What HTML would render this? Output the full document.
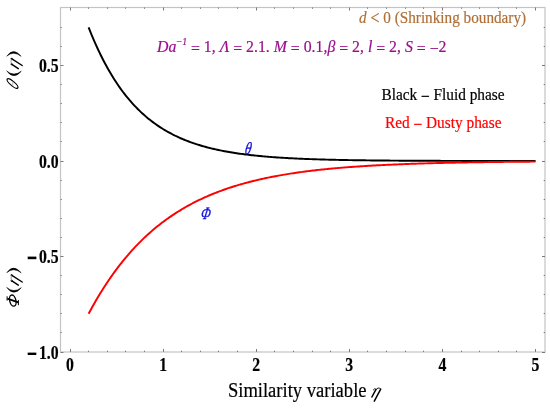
<!DOCTYPE html>
<html><head><meta charset="utf-8"><style>
html,body{margin:0;padding:0;background:#fff;}
svg{display:block;will-change:transform;}
text{font-family:"Liberation Serif",serif;}
</style></head><body>
<svg width="550" height="409" viewBox="0 0 550 409">
<rect x="0" y="0" width="550" height="409" fill="#fff"/>
<rect x="60.5" y="7.5" width="484.5" height="344.5" fill="none" stroke="#c4c4c4" stroke-width="1.2"/>
<g stroke="#7a7a7a" stroke-width="1">
<line x1="70.50" y1="352.0" x2="70.50" y2="349.0"/>
<line x1="70.50" y1="7.5" x2="70.50" y2="10.5"/>
<line x1="88.50" y1="352.0" x2="88.50" y2="350.7"/>
<line x1="88.50" y1="7.5" x2="88.50" y2="8.8"/>
<line x1="107.50" y1="352.0" x2="107.50" y2="350.7"/>
<line x1="107.50" y1="7.5" x2="107.50" y2="8.8"/>
<line x1="125.50" y1="352.0" x2="125.50" y2="350.7"/>
<line x1="125.50" y1="7.5" x2="125.50" y2="8.8"/>
<line x1="144.50" y1="352.0" x2="144.50" y2="350.7"/>
<line x1="144.50" y1="7.5" x2="144.50" y2="8.8"/>
<line x1="163.50" y1="352.0" x2="163.50" y2="349.0"/>
<line x1="163.50" y1="7.5" x2="163.50" y2="10.5"/>
<line x1="181.50" y1="352.0" x2="181.50" y2="350.7"/>
<line x1="181.50" y1="7.5" x2="181.50" y2="8.8"/>
<line x1="200.50" y1="352.0" x2="200.50" y2="350.7"/>
<line x1="200.50" y1="7.5" x2="200.50" y2="8.8"/>
<line x1="218.50" y1="352.0" x2="218.50" y2="350.7"/>
<line x1="218.50" y1="7.5" x2="218.50" y2="8.8"/>
<line x1="237.50" y1="352.0" x2="237.50" y2="350.7"/>
<line x1="237.50" y1="7.5" x2="237.50" y2="8.8"/>
<line x1="256.50" y1="352.0" x2="256.50" y2="349.0"/>
<line x1="256.50" y1="7.5" x2="256.50" y2="10.5"/>
<line x1="274.50" y1="352.0" x2="274.50" y2="350.7"/>
<line x1="274.50" y1="7.5" x2="274.50" y2="8.8"/>
<line x1="293.50" y1="352.0" x2="293.50" y2="350.7"/>
<line x1="293.50" y1="7.5" x2="293.50" y2="8.8"/>
<line x1="312.50" y1="352.0" x2="312.50" y2="350.7"/>
<line x1="312.50" y1="7.5" x2="312.50" y2="8.8"/>
<line x1="330.50" y1="352.0" x2="330.50" y2="350.7"/>
<line x1="330.50" y1="7.5" x2="330.50" y2="8.8"/>
<line x1="349.50" y1="352.0" x2="349.50" y2="349.0"/>
<line x1="349.50" y1="7.5" x2="349.50" y2="10.5"/>
<line x1="367.50" y1="352.0" x2="367.50" y2="350.7"/>
<line x1="367.50" y1="7.5" x2="367.50" y2="8.8"/>
<line x1="386.50" y1="352.0" x2="386.50" y2="350.7"/>
<line x1="386.50" y1="7.5" x2="386.50" y2="8.8"/>
<line x1="405.50" y1="352.0" x2="405.50" y2="350.7"/>
<line x1="405.50" y1="7.5" x2="405.50" y2="8.8"/>
<line x1="423.50" y1="352.0" x2="423.50" y2="350.7"/>
<line x1="423.50" y1="7.5" x2="423.50" y2="8.8"/>
<line x1="442.50" y1="352.0" x2="442.50" y2="349.0"/>
<line x1="442.50" y1="7.5" x2="442.50" y2="10.5"/>
<line x1="461.50" y1="352.0" x2="461.50" y2="350.7"/>
<line x1="461.50" y1="7.5" x2="461.50" y2="8.8"/>
<line x1="479.50" y1="352.0" x2="479.50" y2="350.7"/>
<line x1="479.50" y1="7.5" x2="479.50" y2="8.8"/>
<line x1="498.50" y1="352.0" x2="498.50" y2="350.7"/>
<line x1="498.50" y1="7.5" x2="498.50" y2="8.8"/>
<line x1="516.50" y1="352.0" x2="516.50" y2="350.7"/>
<line x1="516.50" y1="7.5" x2="516.50" y2="8.8"/>
<line x1="535.50" y1="352.0" x2="535.50" y2="349.0"/>
<line x1="535.50" y1="7.5" x2="535.50" y2="10.5"/>
<line x1="60.5" y1="352.50" x2="63.5" y2="352.50"/>
<line x1="545.0" y1="352.50" x2="542.0" y2="352.50"/>
<line x1="60.5" y1="332.50" x2="61.8" y2="332.50"/>
<line x1="545.0" y1="332.50" x2="543.7" y2="332.50"/>
<line x1="60.5" y1="313.50" x2="61.8" y2="313.50"/>
<line x1="545.0" y1="313.50" x2="543.7" y2="313.50"/>
<line x1="60.5" y1="294.50" x2="61.8" y2="294.50"/>
<line x1="545.0" y1="294.50" x2="543.7" y2="294.50"/>
<line x1="60.5" y1="275.50" x2="61.8" y2="275.50"/>
<line x1="545.0" y1="275.50" x2="543.7" y2="275.50"/>
<line x1="60.5" y1="256.50" x2="63.5" y2="256.50"/>
<line x1="545.0" y1="256.50" x2="542.0" y2="256.50"/>
<line x1="60.5" y1="237.50" x2="61.8" y2="237.50"/>
<line x1="545.0" y1="237.50" x2="543.7" y2="237.50"/>
<line x1="60.5" y1="218.50" x2="61.8" y2="218.50"/>
<line x1="545.0" y1="218.50" x2="543.7" y2="218.50"/>
<line x1="60.5" y1="199.50" x2="61.8" y2="199.50"/>
<line x1="545.0" y1="199.50" x2="543.7" y2="199.50"/>
<line x1="60.5" y1="180.50" x2="61.8" y2="180.50"/>
<line x1="545.0" y1="180.50" x2="543.7" y2="180.50"/>
<line x1="60.5" y1="161.50" x2="63.5" y2="161.50"/>
<line x1="545.0" y1="161.50" x2="542.0" y2="161.50"/>
<line x1="60.5" y1="141.50" x2="61.8" y2="141.50"/>
<line x1="545.0" y1="141.50" x2="543.7" y2="141.50"/>
<line x1="60.5" y1="122.50" x2="61.8" y2="122.50"/>
<line x1="545.0" y1="122.50" x2="543.7" y2="122.50"/>
<line x1="60.5" y1="103.50" x2="61.8" y2="103.50"/>
<line x1="545.0" y1="103.50" x2="543.7" y2="103.50"/>
<line x1="60.5" y1="84.50" x2="61.8" y2="84.50"/>
<line x1="545.0" y1="84.50" x2="543.7" y2="84.50"/>
<line x1="60.5" y1="65.50" x2="63.5" y2="65.50"/>
<line x1="545.0" y1="65.50" x2="542.0" y2="65.50"/>
<line x1="60.5" y1="46.50" x2="61.8" y2="46.50"/>
<line x1="545.0" y1="46.50" x2="543.7" y2="46.50"/>
<line x1="60.5" y1="27.50" x2="61.8" y2="27.50"/>
<line x1="545.0" y1="27.50" x2="543.7" y2="27.50"/>
</g>
<polyline points="88.62,27.30 90.11,31.09 91.61,34.77 93.10,38.34 94.60,41.82 96.09,45.19 97.59,48.47 99.08,51.66 100.58,54.76 102.07,57.77 103.57,60.69 105.06,63.53 106.55,66.29 108.05,68.98 109.54,71.58 111.04,74.12 112.53,76.58 114.03,78.97 115.52,81.29 117.02,83.55 118.51,85.74 120.01,87.88 121.50,89.95 123.00,91.96 124.49,93.92 125.98,95.82 127.48,97.66 128.97,99.46 130.47,101.20 131.96,102.89 133.46,104.54 134.95,106.14 136.45,107.69 137.94,109.20 139.44,110.67 140.93,112.10 142.42,113.48 143.92,114.83 145.41,116.14 146.91,117.41 148.40,118.64 149.90,119.84 151.39,121.01 152.89,122.14 154.38,123.24 155.88,124.31 157.37,125.35 158.87,126.36 160.36,127.34 161.85,128.29 163.35,129.22 164.84,130.12 166.34,131.00 167.83,131.85 169.33,132.67 170.82,133.47 172.32,134.25 173.81,135.01 175.31,135.75 176.80,136.46 178.29,137.16 179.79,137.83 181.28,138.49 182.78,139.13 184.27,139.75 185.77,140.35 187.26,140.93 188.76,141.50 190.25,142.05 191.75,142.59 193.24,143.11 194.74,143.62 196.23,144.11 197.72,144.59 199.22,145.05 200.71,145.51 202.21,145.95 203.70,146.37 205.20,146.79 206.69,147.19 208.19,147.58 209.68,147.96 211.18,148.33 212.67,148.69 214.16,149.04 215.66,149.38 217.15,149.71 218.65,150.03 220.14,150.34 221.64,150.64 223.13,150.93 224.63,151.22 226.12,151.49 227.62,151.76 229.11,152.03 230.61,152.28 232.10,152.53 233.59,152.77 235.09,153.00 236.58,153.23 238.08,153.45 239.57,153.66 241.07,153.87 242.56,154.07 244.06,154.27 245.55,154.46 247.05,154.64 248.54,154.82 250.03,155.00 251.53,155.17 253.02,155.33 254.52,155.49 256.01,155.65 257.51,155.80 259.00,155.95 260.50,156.09 261.99,156.23 263.49,156.37 264.98,156.50 266.48,156.62 267.97,156.75 269.46,156.87 270.96,156.99 272.45,157.10 273.95,157.21 275.44,157.32 276.94,157.42 278.43,157.52 279.93,157.62 281.42,157.72 282.92,157.81 284.41,157.90 285.90,157.99 287.40,158.07 288.89,158.16 290.39,158.24 291.88,158.32 293.38,158.39 294.87,158.47 296.37,158.54 297.86,158.61 299.36,158.67 300.85,158.74 302.35,158.80 303.84,158.87 305.33,158.93 306.83,158.99 308.32,159.04 309.82,159.10 311.31,159.15 312.81,159.20 314.30,159.26 315.80,159.30 317.29,159.35 318.79,159.40 320.28,159.44 321.77,159.49 323.27,159.53 324.76,159.57 326.26,159.61 327.75,159.65 329.25,159.69 330.74,159.73 332.24,159.76 333.73,159.80 335.23,159.83 336.72,159.87 338.22,159.90 339.71,159.93 341.20,159.96 342.70,159.99 344.19,160.02 345.69,160.05 347.18,160.07 348.68,160.10 350.17,160.12 351.67,160.15 353.16,160.17 354.66,160.20 356.15,160.22 357.64,160.24 359.14,160.26 360.63,160.28 362.13,160.30 363.62,160.32 365.12,160.34 366.61,160.36 368.11,160.38 369.60,160.40 371.10,160.41 372.59,160.43 374.09,160.45 375.58,160.46 377.07,160.48 378.57,160.49 380.06,160.51 381.56,160.52 383.05,160.53 384.55,160.55 386.04,160.56 387.54,160.57 389.03,160.59 390.53,160.60 392.02,160.61 393.51,160.62 395.01,160.63 396.50,160.64 398.00,160.65 399.49,160.66 400.99,160.67 402.48,160.68 403.98,160.69 405.47,160.70 406.97,160.71 408.46,160.71 409.96,160.72 411.45,160.73 412.94,160.74 414.44,160.75 415.93,160.75 417.43,160.76 418.92,160.77 420.42,160.77 421.91,160.78 423.41,160.79 424.90,160.79 426.40,160.80 427.89,160.80 429.38,160.81 430.88,160.81 432.37,160.82 433.87,160.82 435.36,160.83 436.86,160.83 438.35,160.84 439.85,160.84 441.34,160.85 442.84,160.85 444.33,160.86 445.83,160.86 447.32,160.86 448.81,160.87 450.31,160.87 451.80,160.88 453.30,160.88 454.79,160.88 456.29,160.89 457.78,160.89 459.28,160.89 460.77,160.90 462.27,160.90 463.76,160.90 465.25,160.90 466.75,160.91 468.24,160.91 469.74,160.91 471.23,160.91 472.73,160.92 474.22,160.92 475.72,160.92 477.21,160.92 478.71,160.93 480.20,160.93 481.70,160.93 483.19,160.93 484.68,160.93 486.18,160.94 487.67,160.94 489.17,160.94 490.66,160.94 492.16,160.94 493.65,160.94 495.15,160.95 496.64,160.95 498.14,160.95 499.63,160.95 501.12,160.95 502.62,160.95 504.11,160.95 505.61,160.96 507.10,160.96 508.60,160.96 510.09,160.96 511.59,160.96 513.08,160.96 514.58,160.96 516.07,160.96 517.57,160.96 519.06,160.97 520.55,160.97 522.05,160.97 523.54,160.97 525.04,160.97 526.53,160.97 528.03,160.97 529.52,160.97 531.02,160.97 532.51,160.97 534.01,160.97 535.50,160.98" fill="none" stroke="#000" stroke-width="1.95" stroke-linejoin="round"/>
<polyline points="88.62,313.80 90.11,311.00 91.61,308.26 93.10,305.57 94.60,302.92 96.09,300.33 97.59,297.78 99.08,295.28 100.58,292.82 102.07,290.41 103.57,288.04 105.06,285.72 106.55,283.44 108.05,281.20 109.54,279.00 111.04,276.84 112.53,274.72 114.03,272.64 115.52,270.60 117.02,268.59 118.51,266.63 120.01,264.69 121.50,262.80 123.00,260.93 124.49,259.11 125.98,257.31 127.48,255.55 128.97,253.82 130.47,252.12 131.96,250.46 133.46,248.82 134.95,247.21 136.45,245.64 137.94,244.09 139.44,242.57 140.93,241.08 142.42,239.61 143.92,238.17 145.41,236.76 146.91,235.38 148.40,234.02 149.90,232.68 151.39,231.37 152.89,230.08 154.38,228.82 155.88,227.58 157.37,226.36 158.87,225.16 160.36,223.99 161.85,222.84 163.35,221.71 164.84,220.60 166.34,219.51 167.83,218.44 169.33,217.39 170.82,216.35 172.32,215.34 173.81,214.35 175.31,213.37 176.80,212.41 178.29,211.47 179.79,210.55 181.28,209.64 182.78,208.75 184.27,207.88 185.77,207.02 187.26,206.18 188.76,205.35 190.25,204.54 191.75,203.75 193.24,202.96 194.74,202.20 196.23,201.44 197.72,200.70 199.22,199.98 200.71,199.26 202.21,198.56 203.70,197.88 205.20,197.20 206.69,196.54 208.19,195.89 209.68,195.25 211.18,194.63 212.67,194.01 214.16,193.41 215.66,192.81 217.15,192.23 218.65,191.66 220.14,191.10 221.64,190.55 223.13,190.01 224.63,189.48 226.12,188.96 227.62,188.45 229.11,187.94 230.61,187.45 232.10,186.97 233.59,186.49 235.09,186.03 236.58,185.57 238.08,185.12 239.57,184.68 241.07,184.24 242.56,183.82 244.06,183.40 245.55,182.99 247.05,182.59 248.54,182.19 250.03,181.81 251.53,181.43 253.02,181.05 254.52,180.69 256.01,180.33 257.51,179.97 259.00,179.63 260.50,179.28 261.99,178.95 263.49,178.62 264.98,178.30 266.48,177.98 267.97,177.67 269.46,177.37 270.96,177.07 272.45,176.77 273.95,176.49 275.44,176.20 276.94,175.92 278.43,175.65 279.93,175.38 281.42,175.12 282.92,174.86 284.41,174.61 285.90,174.36 287.40,174.11 288.89,173.87 290.39,173.64 291.88,173.41 293.38,173.18 294.87,172.96 296.37,172.74 297.86,172.52 299.36,172.31 300.85,172.11 302.35,171.90 303.84,171.70 305.33,171.51 306.83,171.32 308.32,171.13 309.82,170.94 311.31,170.76 312.81,170.58 314.30,170.41 315.80,170.23 317.29,170.07 318.79,169.90 320.28,169.74 321.77,169.58 323.27,169.42 324.76,169.27 326.26,169.12 327.75,168.97 329.25,168.82 330.74,168.68 332.24,168.54 333.73,168.40 335.23,168.26 336.72,168.13 338.22,168.00 339.71,167.87 341.20,167.75 342.70,167.62 344.19,167.50 345.69,167.38 347.18,167.27 348.68,167.15 350.17,167.04 351.67,166.93 353.16,166.82 354.66,166.71 356.15,166.61 357.64,166.51 359.14,166.41 360.63,166.31 362.13,166.21 363.62,166.12 365.12,166.02 366.61,165.93 368.11,165.84 369.60,165.75 371.10,165.66 372.59,165.58 374.09,165.50 375.58,165.41 377.07,165.33 378.57,165.25 380.06,165.18 381.56,165.10 383.05,165.02 384.55,164.95 386.04,164.88 387.54,164.81 389.03,164.74 390.53,164.67 392.02,164.60 393.51,164.54 395.01,164.47 396.50,164.41 398.00,164.35 399.49,164.28 400.99,164.22 402.48,164.17 403.98,164.11 405.47,164.05 406.97,163.99 408.46,163.94 409.96,163.89 411.45,163.83 412.94,163.78 414.44,163.73 415.93,163.68 417.43,163.63 418.92,163.58 420.42,163.54 421.91,163.49 423.41,163.44 424.90,163.40 426.40,163.36 427.89,163.31 429.38,163.27 430.88,163.23 432.37,163.19 433.87,163.15 435.36,163.11 436.86,163.07 438.35,163.03 439.85,163.00 441.34,162.96 442.84,162.92 444.33,162.89 445.83,162.85 447.32,162.82 448.81,162.79 450.31,162.75 451.80,162.72 453.30,162.69 454.79,162.66 456.29,162.63 457.78,162.60 459.28,162.57 460.77,162.54 462.27,162.51 463.76,162.48 465.25,162.46 466.75,162.43 468.24,162.40 469.74,162.38 471.23,162.35 472.73,162.33 474.22,162.30 475.72,162.28 477.21,162.26 478.71,162.23 480.20,162.21 481.70,162.19 483.19,162.17 484.68,162.15 486.18,162.13 487.67,162.11 489.17,162.08 490.66,162.07 492.16,162.05 493.65,162.03 495.15,162.01 496.64,161.99 498.14,161.97 499.63,161.95 501.12,161.94 502.62,161.92 504.11,161.90 505.61,161.89 507.10,161.87 508.60,161.85 510.09,161.84 511.59,161.82 513.08,161.81 514.58,161.79 516.07,161.78 517.57,161.76 519.06,161.75 520.55,161.74 522.05,161.72 523.54,161.71 525.04,161.70 526.53,161.68 528.03,161.67 529.52,161.66 531.02,161.65 532.51,161.64 534.01,161.62 535.50,161.61" fill="none" stroke="#ff0000" stroke-width="1.95" stroke-linejoin="round"/>
<text transform="translate(58.6,72.1) scale(0.82,1)" text-anchor="end" font-size="19.2" font-weight="bold" font-style="normal" fill="#000" stroke="#000" stroke-width="0.2" >0.5</text>
<text transform="translate(58.6,167.6) scale(0.82,1)" text-anchor="end" font-size="19.2" font-weight="bold" font-style="normal" fill="#000" stroke="#000" stroke-width="0.2" >0.0</text>
<text transform="translate(58.6,263.1) scale(0.82,1)" text-anchor="end" font-size="19.2" font-weight="bold" font-style="normal" fill="#000" stroke="#000" stroke-width="0.2" >0.5</text>
<text transform="translate(58.6,359.2) scale(0.82,1)" text-anchor="end" font-size="19.2" font-weight="bold" font-style="normal" fill="#000" stroke="#000" stroke-width="0.2" >1.0</text>
<rect x="27.7" y="256.6" width="8.7" height="2.6" fill="#000"/>
<rect x="27.7" y="352.6" width="8.6" height="2.4" fill="#000"/>
<text transform="translate(70.0,370.6) scale(0.82,1)" text-anchor="middle" font-size="19.2" font-weight="bold" font-style="normal" fill="#000" stroke="#000" stroke-width="0.2" >0</text>
<text transform="translate(163.1,370.6) scale(0.82,1)" text-anchor="middle" font-size="19.2" font-weight="bold" font-style="normal" fill="#000" stroke="#000" stroke-width="0.2" >1</text>
<text transform="translate(256.2,370.6) scale(0.82,1)" text-anchor="middle" font-size="19.2" font-weight="bold" font-style="normal" fill="#000" stroke="#000" stroke-width="0.2" >2</text>
<text transform="translate(349.29999999999995,370.6) scale(0.82,1)" text-anchor="middle" font-size="19.2" font-weight="bold" font-style="normal" fill="#000" stroke="#000" stroke-width="0.2" >3</text>
<text transform="translate(442.4,370.6) scale(0.82,1)" text-anchor="middle" font-size="19.2" font-weight="bold" font-style="normal" fill="#000" stroke="#000" stroke-width="0.2" >4</text>
<text transform="translate(535.5,370.6) scale(0.82,1)" text-anchor="middle" font-size="19.2" font-weight="bold" font-style="normal" fill="#000" stroke="#000" stroke-width="0.2" >5</text>
<text transform="translate(359.0,23.3) scale(0.895,1)" text-anchor="start" font-size="17.0" font-weight="normal" font-style="normal" fill="#b07038" stroke="#b07038" stroke-width="0.2" ><tspan font-style="italic">d</tspan> <tspan dy="0.9" font-size="18">&lt;</tspan><tspan dy="-0.9"> 0 (Shrinking boundary)</tspan></text>
<text transform="translate(157.0,52.4) scale(0.93,1)" text-anchor="start" font-size="17.0" font-weight="normal" font-style="normal" fill="#9a0e8a" stroke="#9a0e8a" stroke-width="0.2" ><tspan font-style="italic">Da</tspan><tspan font-style="italic" font-size="10.5" dy="-7" dx="-0.5">−<tspan dx="-0.3">1</tspan></tspan><tspan dy="8.7"> =</tspan><tspan dy="-1.7"> </tspan>1, <tspan font-style="italic">Λ</tspan><tspan dy="1.7"> =</tspan><tspan dy="-1.7"> </tspan>2.1. <tspan font-style="italic">M</tspan><tspan dy="1.7"> =</tspan><tspan dy="-1.7"> </tspan>0.1,<tspan font-style="italic">β</tspan><tspan dy="1.7"> =</tspan><tspan dy="-1.7"> </tspan>2, <tspan font-style="italic">l</tspan><tspan dy="1.7"> =</tspan><tspan dy="-1.7"> </tspan>2, <tspan font-style="italic">S</tspan><tspan dy="1.7"> =</tspan><tspan dy="-1.7"> </tspan><tspan dy="1.3">−</tspan><tspan dy="-1.3">2</tspan></text>
<text transform="translate(381.5,99.5) scale(0.886,1)" text-anchor="start" font-size="17.3" font-weight="normal" font-style="normal" fill="#000" stroke="#000" stroke-width="0.2" >Black <tspan dy="2.0" stroke="#000" stroke-width="0.35">−</tspan><tspan dy="-2.0"> Fluid phase</tspan></text>
<text transform="translate(385.0,128.3) scale(0.887,1)" text-anchor="start" font-size="17.3" font-weight="normal" font-style="normal" fill="#ff0000" stroke="#ff0000" stroke-width="0.2" >Red <tspan dy="2.0" stroke="#ff0000" stroke-width="0.35">−</tspan><tspan dy="-2.0"> Dusty phase</tspan></text>
<text transform="translate(244.3,153.5) skewX(-9) scale(0.8,1.03)" font-size="16.6" font-style="italic" fill="#1010e0" stroke="#1010e0" stroke-width="0.3">θ</text>
<text transform="translate(200.3,218.9) skewX(-10) scale(0.76,1.05)" font-size="16.6" font-style="italic" fill="#1010e0" stroke="#1010e0" stroke-width="0.35">Φ</text>
<text transform="translate(227.9,396.9) scale(0.86,1)" text-anchor="start" font-size="21.6" font-weight="normal" font-style="normal" fill="#000" stroke="#000" stroke-width="0.2" >Similarity variable</text>
<g fill="none" stroke="#000" stroke-linecap="round">
<path d="M376.0,389.3 L371.9,397.0" stroke-width="1.5"/>
<path d="M380.7,389.1 L374.3,401.1" stroke-width="1.5"/>
<path d="M376.0,389.7 Q378.2,386.4 380.7,389.1" stroke-width="1.0" stroke="#111"/>
<path d="M373.3,389.9 Q374.6,387.6 376.0,389.3" stroke-width="1.0" stroke="#111"/>
</g>
<g fill="none" stroke="#000" stroke-linecap="round">
<g id="pe">
<path d="M7.0,55.9 Q13.4,47.1 21.2,56.3 Q13.4,50.3 7.0,55.9 Z" fill="#000" stroke-width="0.5"/>
<path d="M6.9,71.2 Q13.8,80.2 21.3,71.2 Q13.8,77 6.9,71.2 Z" fill="#000" stroke-width="0.5"/>
<path d="M11.5,58.7 L22.2,65.5" stroke-width="1.4"/><circle cx="11.6" cy="58.8" r="1.0" fill="#000" stroke="none"/>
<path d="M11.5,64.1 L18.3,68.7" stroke-width="1.4"/><circle cx="11.6" cy="64.2" r="1.0" fill="#000" stroke="none"/>
<path d="M11.5,58.9 Q10.4,61.5 11.5,64.1" stroke-width="0.7" stroke="#777"/>
</g>
<use href="#pe" transform="translate(0,216.5)"/>
<ellipse cx="12.5" cy="83.5" rx="6.9" ry="2.1" transform="rotate(40.7 12.5 83.5)" stroke-width="1.2"/>
<path d="M12.8,82 L12.8,84.9" stroke="#aaa" stroke-width="0.8"/>
<ellipse cx="12.8" cy="300.6" rx="5.7" ry="3.1" transform="rotate(76 12.8 300.6)" stroke-width="1.35"/>
<path d="M7.4,298.6 L18.3,302.4" stroke-width="1.7" stroke-linecap="butt"/>
<path d="M7.1,296.3 L7.1,300.6" stroke-width="1.0" stroke-linecap="butt"/>
<path d="M18.4,300.1 L18.4,305.2" stroke-width="1.0" stroke-linecap="butt"/>
</g>
</svg>
</body></html>
